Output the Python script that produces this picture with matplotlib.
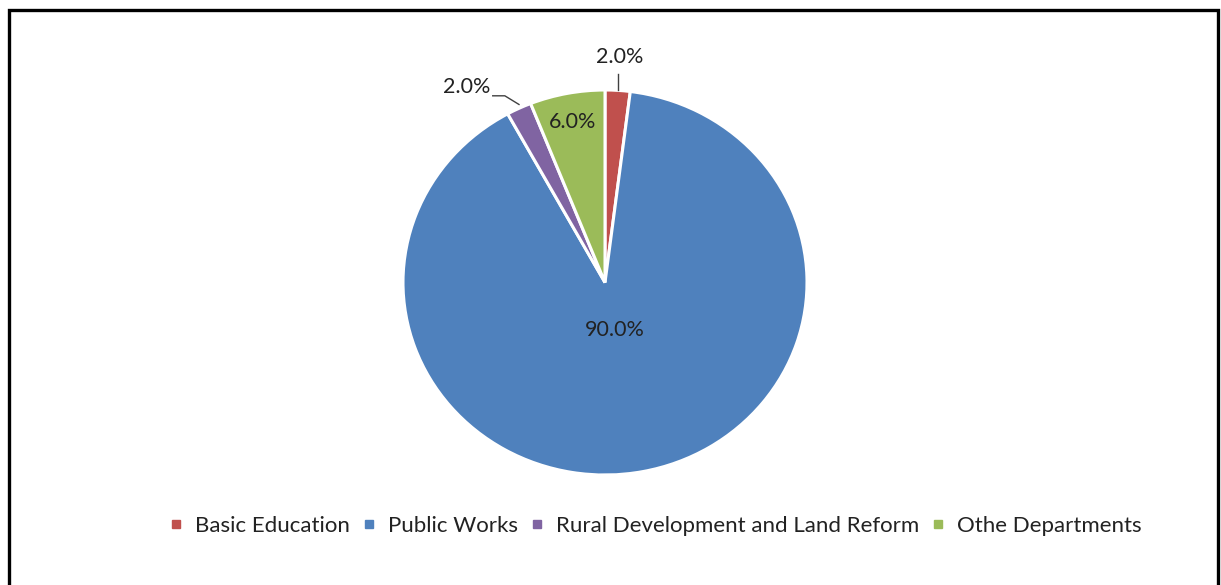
import numpy as np
import matplotlib
matplotlib.use("Agg")
import matplotlib.pyplot as plt
from matplotlib.lines import Line2D
from matplotlib.patches import Rectangle

categories = ["Basic Education", "Public Works", "Rural Development and Land Reform", "Othe Departments"]
values = [2.0, 90.0, 2.0, 6.0]
colors = ["#C0504D", "#4F81BD", "#8064A2", "#9BBB59"]

plt.rcParams['font.family'] = ['Lato', 'DejaVu Sans']

W, H = 1221, 585
fig = plt.figure(figsize=(W / 100, H / 100), dpi=100)

# frame
fig.patches.append(Rectangle((9 / W, -0.05), (1218 - 9) / W, 1.05 - 10 / H,
                             transform=fig.transFigure, fill=False,
                             edgecolor="black", linewidth=2.4, clip_on=False))

cx, cy, rx, ry = 605, 282.5, 202, 192.5
ax = fig.add_axes([(cx - rx) / W, 1 - (cy + ry) / H, 2 * rx / W, 2 * ry / H])

wedges, texts, autotexts = ax.pie(values, colors=colors, startangle=90, counterclock=False,
                                  autopct='%1.1f%%', pctdistance=0.85,
                                  wedgeprops=dict(edgecolor="white", linewidth=2.2),
                                  textprops=dict(fontsize=15.5, color="#222222"))
ax.set_aspect('auto')
ax.set_xlim(-1, 1)
ax.set_ylim(-1, 1)

def mid_angle(w):
    return np.deg2rad((w.theta1 + w.theta2) / 2)

# Basic Education: label above with radial leader
a = mid_angle(wedges[0])
x0, y0 = np.cos(a), np.sin(a)
ax.plot([x0, x0], [1.0, 1.085], color="#404040", lw=1, clip_on=False)
autotexts[0].set_position((x0 + 0.01, 1.17))
autotexts[0].set_ha('center'); autotexts[0].set_va('center')

# Public Works
a = mid_angle(wedges[1])
autotexts[1].set_position((0.27 * np.cos(a), 0.25 * np.sin(a)))

# Rural Development: label up-left with leader
a = mid_angle(wedges[2])
x0, y0 = np.cos(a), np.sin(a)
ax.plot([x0, x0 - 0.07, x0 - 0.13], [y0 + 0.02, y0 + 0.065, y0 + 0.065],
        color="#404040", lw=1, clip_on=False)
autotexts[2].set_position((x0 - 0.14, y0 + 0.11))
autotexts[2].set_ha('right'); autotexts[2].set_va('center')

# Other departments inside
a = mid_angle(wedges[3])
autotexts[3].set_position((0.85 * np.cos(a), 0.85 * np.sin(a)))

handles = [Line2D([], [], marker='s', linestyle='none', markersize=6,
                  markerfacecolor=c, markeredgecolor=c) for c in colors]
fig.legend(handles, categories, loc='center', bbox_to_anchor=(655 / W, 1 - 526 / H),
           ncol=4, frameon=False, fontsize=16, handlelength=0.7, handletextpad=0.5,
           columnspacing=0.5, labelcolor="#222222")

fig.savefig("out.png", dpi=100, facecolor="white")
